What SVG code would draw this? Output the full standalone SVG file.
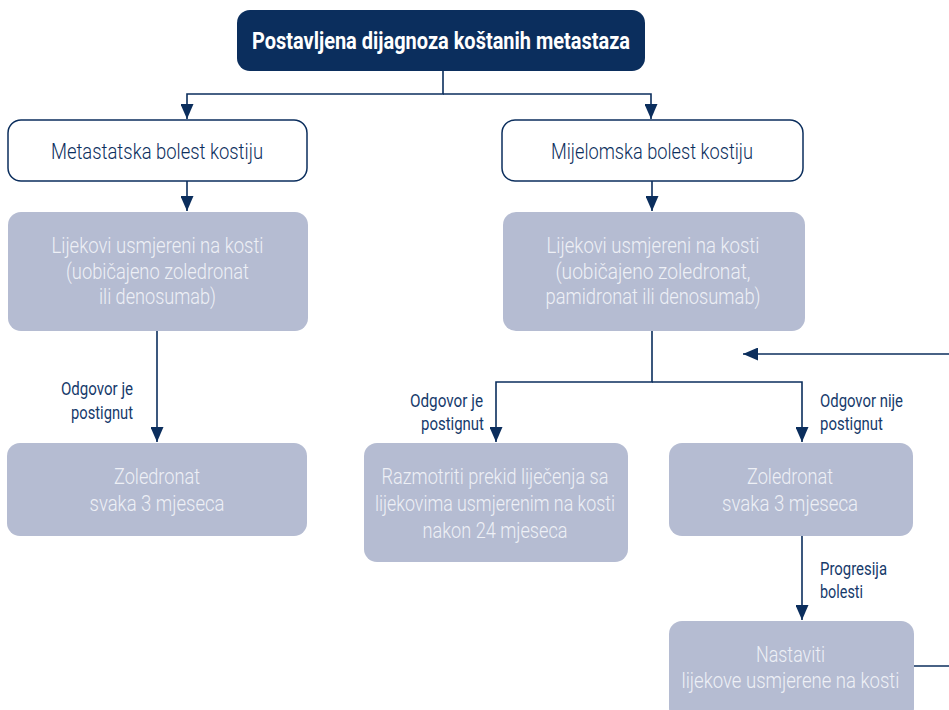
<svg xmlns="http://www.w3.org/2000/svg" width="949" height="710" viewBox="0 0 949 710">
<style>
.bg{fill:#ffffff}
.dark{fill:#0b2e5d}
.white{fill:#ffffff;stroke:#0b2e5d;stroke-width:1.5}
.light{fill:#b5bcd2}
.t{font-family:"Roboto","Liberation Sans",sans-serif;text-anchor:middle}
.tt{font-size:23px;font-weight:bold;fill:#ffffff}
.tw{font-size:22px;font-weight:300;fill:#0b2e5d}
.tl{font-size:22px;font-weight:300;fill:#eef0f6}
.lab{font-family:"Roboto","Liberation Sans",sans-serif;font-size:18px;font-weight:400;fill:#163a6b}
.r{text-anchor:end}
.c line,.c polyline{fill:none;stroke:#0b2e5d;stroke-width:1.6}
</style>
<defs>
<marker id="ah" markerUnits="userSpaceOnUse" markerWidth="16" markerHeight="13" refX="15" refY="6.5" orient="auto">
<path d="M0,0 L15,6.5 L0,13 z" fill="#0b2e5d"/>
</marker>
</defs>
<rect class="bg" x="0" y="0" width="949" height="710"/>

<g id="connectors" class="c">
<polyline points="443,71 443,94 187,94 187,119" marker-end="url(#ah)"/>
<polyline points="443,94 651,94 651,119" marker-end="url(#ah)"/>
<line x1="187" y1="181" x2="187" y2="211" marker-end="url(#ah)"/>
<line x1="652" y1="181" x2="652" y2="211" marker-end="url(#ah)"/>
<line x1="157" y1="331" x2="157" y2="442" marker-end="url(#ah)"/>
<polyline points="652,331 652,382 496,382 496,442" marker-end="url(#ah)"/>
<polyline points="652,382 802,382 802,442" marker-end="url(#ah)"/>
<line x1="802" y1="536" x2="802" y2="620" marker-end="url(#ah)"/>
<line x1="914" y1="666" x2="949" y2="666"/>
<line x1="949" y1="354" x2="743" y2="354" marker-end="url(#ah)"/>
</g>

<g id="n-top">
<rect class="dark" x="237" y="10" width="408" height="61" rx="13"/>
<text class="t tt" x="441" y="49" textLength="378" lengthAdjust="spacingAndGlyphs">Postavljena dijagnoza koštanih metastaza</text>
</g>

<g id="n-metastatska">
<rect class="white" x="8" y="120" width="299" height="61" rx="13"/>
<text class="t tw" x="157" y="159" textLength="212" lengthAdjust="spacingAndGlyphs">Metastatska bolest kostiju</text>
</g>

<g id="n-mijelomska">
<rect class="white" x="502" y="120" width="301" height="61" rx="13"/>
<text class="t tw" x="652" y="159" textLength="202" lengthAdjust="spacingAndGlyphs">Mijelomska bolest kostiju</text>
</g>

<g id="n-lijekovi-left">
<rect class="light" x="8" y="212" width="300" height="119" rx="13"/>
<text class="t tl" x="157.5" y="253" textLength="212" lengthAdjust="spacingAndGlyphs">Lijekovi usmjereni na kosti</text>
<text class="t tl" x="157.5" y="279" textLength="183" lengthAdjust="spacingAndGlyphs">(uobičajeno zoledronat</text>
<text class="t tl" x="157.5" y="304" textLength="117" lengthAdjust="spacingAndGlyphs">ili denosumab)</text>
</g>

<g id="n-lijekovi-right">
<rect class="light" x="503" y="212" width="302" height="119" rx="13"/>
<text class="t tl" x="653" y="253" textLength="213" lengthAdjust="spacingAndGlyphs">Lijekovi usmjereni na kosti</text>
<text class="t tl" x="653" y="279" textLength="195" lengthAdjust="spacingAndGlyphs">(uobičajeno zoledronat,</text>
<text class="t tl" x="653" y="304" textLength="215" lengthAdjust="spacingAndGlyphs">pamidronat ili denosumab)</text>
</g>

<g id="n-zoledronat-left">
<rect class="light" x="7" y="443" width="300" height="93" rx="13"/>
<text class="t tl" x="157" y="484" textLength="86" lengthAdjust="spacingAndGlyphs">Zoledronat</text>
<text class="t tl" x="157" y="511" textLength="135" lengthAdjust="spacingAndGlyphs">svaka 3 mjeseca</text>
</g>

<g id="n-razmotriti">
<rect class="light" x="364" y="443" width="264" height="119" rx="13"/>
<text class="t tl" x="495" y="484" textLength="227" lengthAdjust="spacingAndGlyphs">Razmotriti prekid liječenja sa</text>
<text class="t tl" x="495" y="511" textLength="240" lengthAdjust="spacingAndGlyphs">lijekovima usmjerenim na kosti</text>
<text class="t tl" x="495" y="538" textLength="145" lengthAdjust="spacingAndGlyphs">nakon 24 mjeseca</text>
</g>

<g id="n-zoledronat-right">
<rect class="light" x="669" y="443" width="244" height="93" rx="13"/>
<text class="t tl" x="790" y="484" textLength="86" lengthAdjust="spacingAndGlyphs">Zoledronat</text>
<text class="t tl" x="790" y="511" textLength="136" lengthAdjust="spacingAndGlyphs">svaka 3 mjeseca</text>
</g>

<g id="n-nastaviti">
<rect class="light" x="669" y="621" width="245" height="100" rx="13"/>
<text class="t tl" x="790.5" y="662" textLength="69" lengthAdjust="spacingAndGlyphs">Nastaviti</text>
<text class="t tl" x="790.5" y="688" textLength="218" lengthAdjust="spacingAndGlyphs">lijekove usmjerene na kosti</text>
</g>

<g id="labels">
<text class="lab r" x="133" y="395" textLength="72" lengthAdjust="spacingAndGlyphs">Odgovor je</text>
<text class="lab r" x="133" y="419" textLength="62" lengthAdjust="spacingAndGlyphs">postignut</text>
<text class="lab r" x="483" y="407" textLength="73" lengthAdjust="spacingAndGlyphs">Odgovor je</text>
<text class="lab r" x="484" y="430" textLength="63" lengthAdjust="spacingAndGlyphs">postignut</text>
<text class="lab" x="820" y="407" textLength="83" lengthAdjust="spacingAndGlyphs">Odgovor nije</text>
<text class="lab" x="820" y="430" textLength="63" lengthAdjust="spacingAndGlyphs">postignut</text>
<text class="lab" x="820" y="575" textLength="67" lengthAdjust="spacingAndGlyphs">Progresija</text>
<text class="lab" x="820" y="598" textLength="43" lengthAdjust="spacingAndGlyphs">bolesti</text>
</g>
</svg>
